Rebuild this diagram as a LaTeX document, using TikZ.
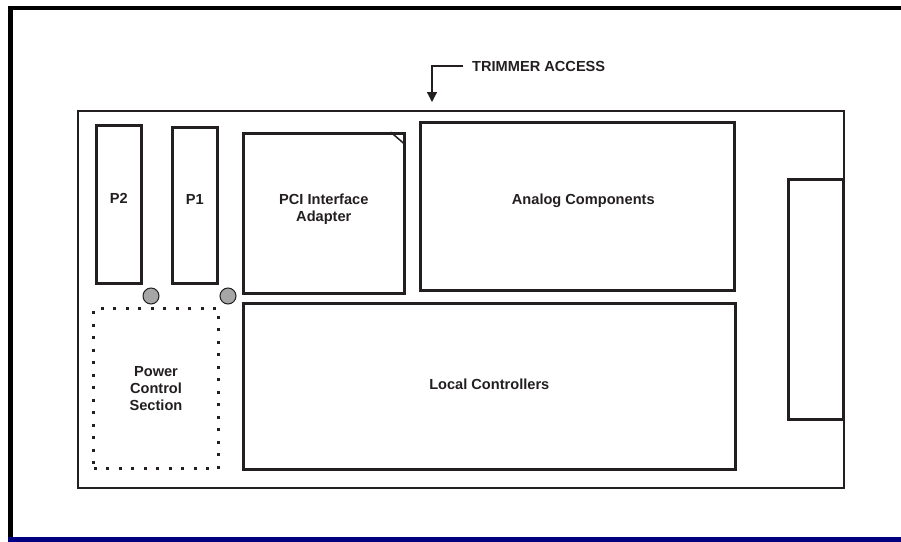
\documentclass[tikz,border=0pt]{standalone}
\usepackage{fontspec}
\setmainfont{Liberation Sans}
\usepackage{tikz}
\usetikzlibrary{arrows.meta,positioning}
\definecolor{boardline}{RGB}{35, 31, 32}
\definecolor{framenavy}{RGB}{0, 0, 128}
\definecolor{postgray}{RGB}{166, 166, 166}
\tikzset{
 frameline/.style={
 draw=black,
 line width=4.5pt
 },
 board/.style={
 rectangle,
 draw=boardline,
 line width=2.2pt,
 inner sep=0pt,
 anchor=north west
 },
 part/.style={
 rectangle,
 draw=boardline,
 line width=2.6pt,
 inner sep=0pt,
 anchor=north west
 },
 dotbox/.style={
 rectangle,
 draw=boardline,
 line width=3pt,
 dash pattern=on 3pt off 9.5pt,
 inner sep=0pt,
 anchor=north west
 },
 post/.style={
 circle,
 draw=boardline,
 fill=postgray,
 line width=1pt,
 inner sep=0pt,
 minimum size=16pt
 },
 tag/.style={
 align=center,
 inner sep=0pt,
 text=boardline,
 font=\fontsize{14.6}{17}\selectfont\bfseries
 },
 pointer/.style={-{Triangle[length=10pt, width=10pt]}, line width=1.3pt, draw=boardline}
}

\begin{document}
\begin{tikzpicture}[x=1pt, y=-1pt]
 \useasboundingbox (0,0) rectangle (901,541);

 % outer frame
 \draw[frameline] (8,8) -- (901,8);
 \draw[frameline] (10.5,6) -- (10.5,538);
 \draw[frameline, draw=framenavy] (8,539.5) -- (901,539.5);

 % board and parts
 \node[board, minimum width=766pt, minimum height=377pt] (board) at (77,110) {};
 \node[part, minimum width=45pt, minimum height=158pt] (p2) at (95,124) {};
 \node[part, minimum width=45pt, minimum height=156pt] (p1) at (171,126) {};
 \node[part, minimum width=161pt, minimum height=160pt] (pci) at (242,132) {};
 \node[part, minimum width=314pt, minimum height=168pt] (analog) at (419,121) {};
 \node[part, minimum width=492pt, minimum height=166pt] (local) at (242,302) {};
 \node[part, minimum width=55pt, minimum height=240pt] (conn) at (787,178) {};
 \node[dotbox, minimum width=125pt, minimum height=160pt] (power) at (92,307) {};
 \node[post] (post2) at (151,296) {};
 \node[post] (post1) at (228,296) {};

 \draw[boardline, line width=1.5pt] ([xshift=-15pt]pci.north east) -- ([yshift=-13pt]pci.north east);

 % labels
 \node[tag] (p2text) at ([yshift=6pt]p2.center) {P2};
 \node[tag] (p1text) at ([yshift=6pt]p1.center) {P1};
 \node[tag] (pcitext) at ([yshift=4pt]pci.center) {PCI Interface\\Adapter};
 \node[tag] (analogtext) at ([xshift=6pt, yshift=6pt]analog.center) {Analog Components};
 \node[tag] (localtext) at ([yshift=2pt]local.center) {Local Controllers};
 \node[tag] (powertext) at (power.center) {Power\\Control\\Section};

 % trimmer access
 \coordinate (trimpoint) at (432,102);
 \node[tag, anchor=west] (trimmer) at (472,66) {TRIMMER ACCESS};
 \draw[pointer] ([xshift=-9pt]trimmer.west) -| (trimpoint);
\end{tikzpicture}
\end{document}
